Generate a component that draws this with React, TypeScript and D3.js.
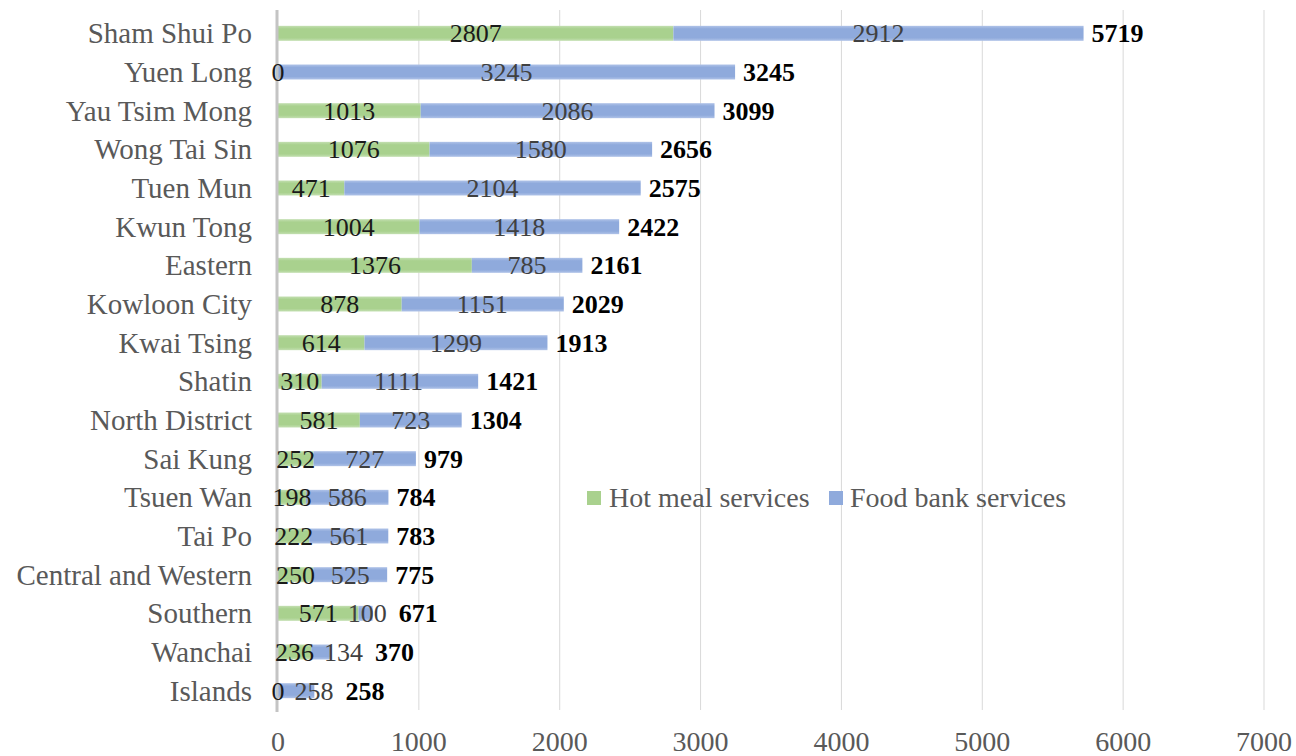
import React from "react";
import * as d3 from "d3";

const districts = [
  "Sham Shui Po", "Yuen Long", "Yau Tsim Mong", "Wong Tai Sin", "Tuen Mun", "Kwun Tong",
  "Eastern", "Kowloon City", "Kwai Tsing", "Shatin", "North District", "Sai Kung",
  "Tsuen Wan", "Tai Po", "Central and Western", "Southern", "Wanchai", "Islands",
];
const hotMeal = [2807, 0, 1013, 1076, 471, 1004, 1376, 878, 614, 310, 581, 252, 198, 222, 250, 571, 236, 0];
const foodBank = [2912, 3245, 2086, 1580, 2104, 1418, 785, 1151, 1299, 1111, 723, 727, 586, 561, 525, 100, 134, 258];
const xTicks = [0, 1000, 2000, 3000, 4000, 5000, 6000, 7000];
const seriesNames = ["Hot meal services", "Food bank services"];

const W = 1296, H = 756;
const FONT = '"Liberation Serif", Tinos, "Times New Roman", Times, "DejaVu Serif", serif';

export default function App() {
  const x = d3.scaleLinear().domain([0, 7000]).range([278, 1264]);
  const y = d3.scaleBand<string>().domain(districts).range([14, 710]).padding(0);
  const barH = 15;
  const dlSize = 26;
  const digitW = dlSize * 0.5;

  const rows = districts.map((d, i) => {
    const h = hotMeal[i], f = foodBank[i], t = h + f;
    const cy = (y(d) as number) + y.bandwidth() / 2;
    const x0 = x(0), x1 = x(h), x2 = x(h + f);
    const w1 = String(h).length * digitW;
    const l1 = (x0 + x1) / 2 - w1 / 2;
    const e1 = l1 + w1;
    const w2 = String(f).length * digitW;
    let l2 = (x1 + x2) / 2 - w2 / 2;
    if (l2 < e1 + 10) l2 = e1 + 10;
    const e2 = l2 + w2;
    const lt = Math.max(x2 + 8, e2 + 12);
    return { d, h, f, t, cy, x0, x1, x2, l1, l2, lt };
  });

  return (
    <svg width={W} height={H} style={{ position: "absolute", left: 0, top: 0, background: "#fff", fontFamily: FONT }}>
      <defs>
        <linearGradient id="gGreen" x1="0" y1="0" x2="0" y2="1">
          <stop offset="0" stopColor="#c3dfb1" />
          <stop offset="0.2" stopColor="#a9d18e" />
          <stop offset="0.8" stopColor="#a9d18e" />
          <stop offset="1" stopColor="#c3dfb1" />
        </linearGradient>
        <linearGradient id="gBlue" x1="0" y1="0" x2="0" y2="1">
          <stop offset="0" stopColor="#b0c3e8" />
          <stop offset="0.2" stopColor="#8faadc" />
          <stop offset="0.8" stopColor="#8faadc" />
          <stop offset="1" stopColor="#b0c3e8" />
        </linearGradient>
      </defs>
      {xTicks.slice(1).map((t) => (
        <line key={t} x1={x(t)} x2={x(t)} y1={10} y2={710} stroke="#d9d9d9" strokeWidth={1} />
      ))}
      {xTicks.map((t) => (
        <text key={t} x={x(t)} y={751} textAnchor="middle" fontSize={28} fill="#595959" style={{ fontFamily: FONT }}>{t}</text>
      ))}
      {rows.map((r) => (
        <g key={r.d}>
          {r.h > 0 && (
            <rect x={r.x0} y={r.cy - barH / 2} width={r.x1 - r.x0} height={barH} fill="url(#gGreen)" />
          )}
          <rect x={r.x1} y={r.cy - barH / 2} width={r.x2 - r.x1} height={barH} fill="url(#gBlue)" />
        </g>
      ))}
      <line x1={277} x2={277} y1={10} y2={712} stroke="#c4c4c4" strokeWidth={3} />
      {rows.map((r) => (
        <g key={r.d + "l"} style={{ fontFamily: FONT }}>
          <text x={252} y={r.cy + 10} textAnchor="end" fontSize={29} fill="#595959">{r.d}</text>
          <text x={r.l1} y={r.cy + 9} fontSize={dlSize} fill="#1a1a1a">{r.h}</text>
          <text x={r.l2} y={r.cy + 9} fontSize={dlSize} fill="#404040">{r.f}</text>
          <text x={r.lt} y={r.cy + 9} fontSize={dlSize} fontWeight="bold" fill="#000">{r.t}</text>
        </g>
      ))}
      <g style={{ fontFamily: FONT }}>
        <rect x={587} y={491} width={14} height={14} fill="#a9d18e" />
        <text x={609} y={507} fontSize={28} fill="#595959">{seriesNames[0]}</text>
        <rect x={829} y={491} width={14} height={14} fill="#8faadc" />
        <text x={850} y={507} fontSize={28} fill="#595959">{seriesNames[1]}</text>
      </g>
    </svg>
  );
}
